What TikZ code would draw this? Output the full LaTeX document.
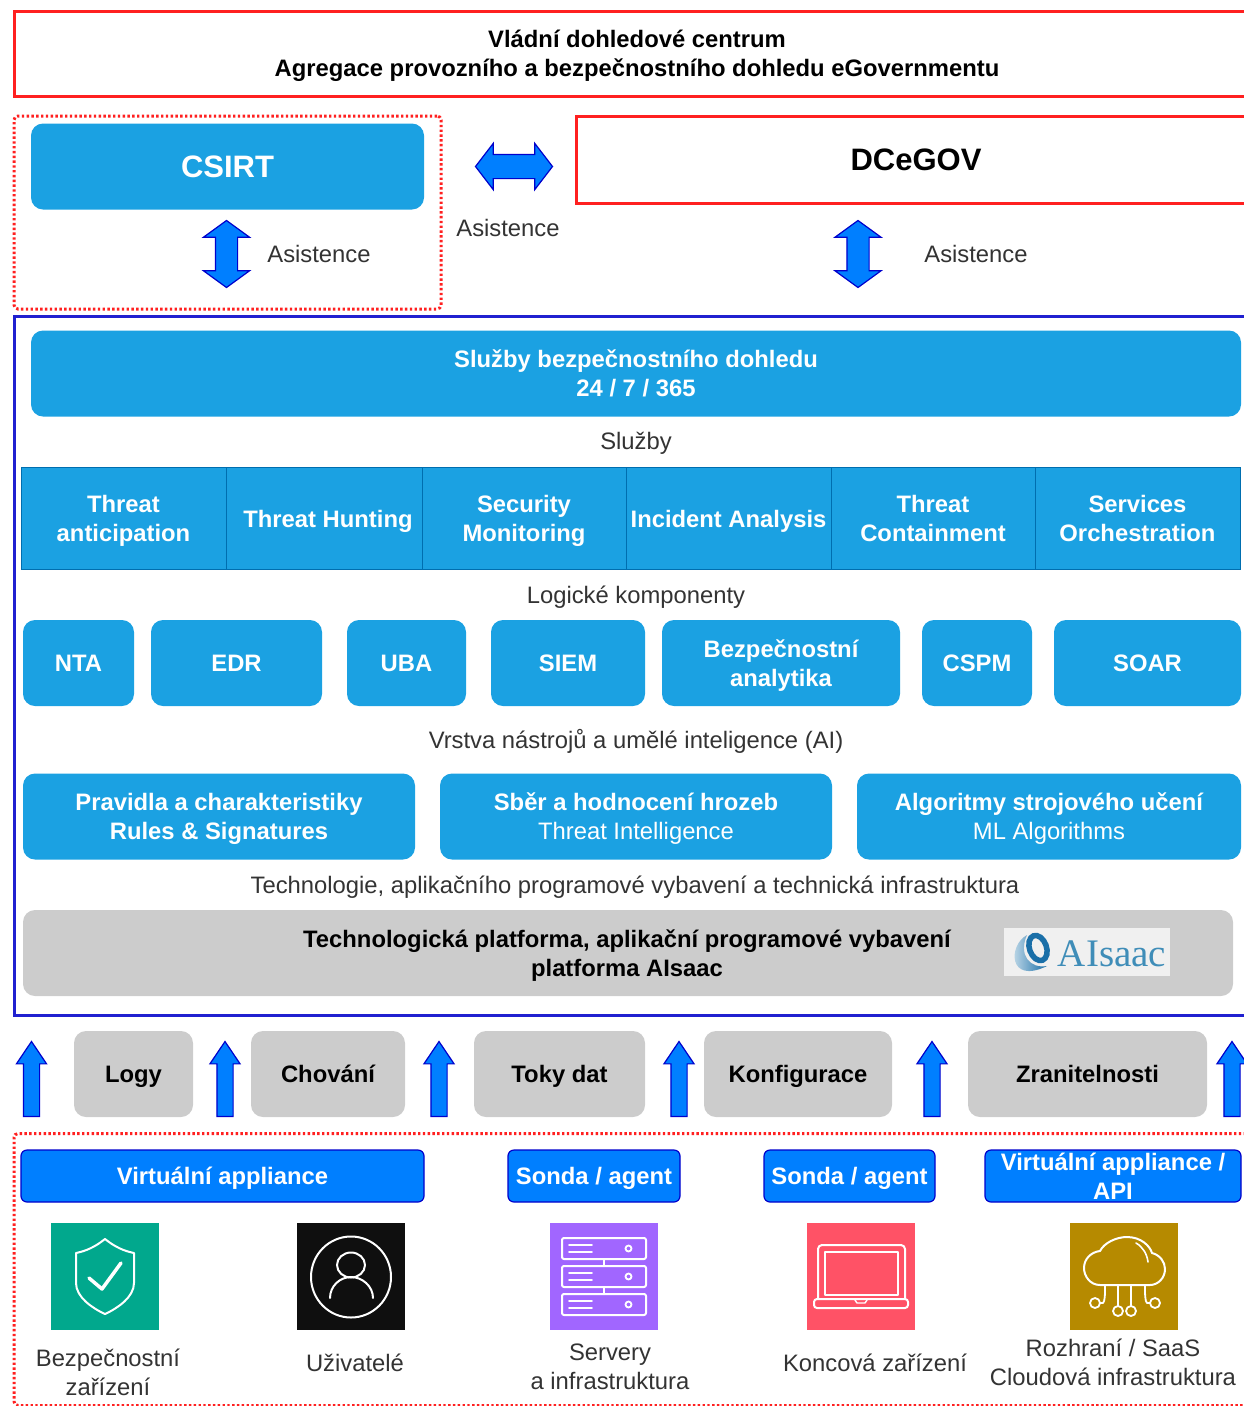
\documentclass[tikz,border=0pt]{standalone}
\usepackage{fontspec}
\setmainfont{Liberation Sans}
\newfontfamily\logofont{Liberation Serif}
\usetikzlibrary{shapes.arrows}
\definecolor{cyanfill}{HTML}{1BA1E2}
\definecolor{cyanline}{HTML}{006EAF}
\definecolor{greyfill}{HTML}{CCCCCC}
\definecolor{azure}{HTML}{007FFF}
\definecolor{azureline}{HTML}{0000CC}
\definecolor{framered}{HTML}{FF2020}
\definecolor{frameblue}{HTML}{2020D0}
\definecolor{labelgrey}{HTML}{333333}
\definecolor{logoblue}{HTML}{3F8DB8}
\definecolor{logodark}{HTML}{1A6FA8}
\definecolor{logolight}{HTML}{D5E6F0}
\definecolor{secteal}{HTML}{01A88D}
\definecolor{srvpurple}{HTML}{A166FF}
\definecolor{lapred}{HTML}{FF5266}
\definecolor{cldgold}{HTML}{B68A00}
\tikzstyle{every node}=[inner sep=0pt,outer sep=0pt,align=center,font=\fontsize{23.8}{29}\selectfont]
\tikzstyle{oneline}=[text height=20pt,text depth=3pt]
\tikzstyle{twoline}=[text height=49pt,text depth=3pt]
\tikzstyle{block}=[
   rectangle,
   rounded corners=12pt,
   fill=cyanfill,
   text=white,
   minimum height=86pt,
   oneline,
   font=\fontsize{23.8}{29}\selectfont\bfseries
]
\tikzstyle{service}=[
   rectangle,
   draw=cyanline,
   line width=1pt,
   fill=cyanfill,
   text=white,
   minimum height=102pt,
   oneline,
   font=\fontsize{23.8}{29}\selectfont\bfseries
]
\tikzstyle{greybox}=[
   rectangle,
   rounded corners=12pt,
   fill=greyfill,
   text=black,
   minimum height=86pt,
   oneline,
   font=\fontsize{23.8}{29}\selectfont\bfseries
]
\tikzstyle{probe}=[
   rectangle,
   rounded corners=6pt,
   draw=azureline,
   line width=1.2pt,
   fill=azure,
   text=white,
   minimum height=52pt,
   oneline,
   font=\fontsize{23.8}{29}\selectfont\bfseries
]
\tikzstyle{redframe}=[rectangle,draw=framered,line width=3pt]
\tikzstyle{blueframe}=[rectangle,draw=frameblue,line width=3pt]
\tikzstyle{dotframe}=[rectangle,draw=framered,line width=3pt,dash pattern=on 2.4pt off 2.4pt,rounded corners=4pt]
\tikzstyle{caption}=[text=labelgrey,oneline]
\tikzstyle{duo}=[
   double arrow,
   draw=azureline,
   line width=1.2pt,
   fill=azure,
   minimum width=45pt,
   inner ysep=11.5pt,
   double arrow head extend=11pt,
   double arrow tip angle=105,
   double arrow head indent=0pt
]
\tikzstyle{duoup}=[
   duo,
   rotate=90,
   minimum height=67pt,
   inner ysep=10.5pt,
   double arrow head extend=12pt,
   double arrow tip angle=108
]
\tikzstyle{upper}=[
   single arrow,
   rotate=90,
   draw=azureline,
   line width=1.2pt,
   fill=azure,
   minimum width=29pt,
   minimum height=75pt,
   inner ysep=7.5pt,
   single arrow head extend=7pt,
   single arrow tip angle=68,
   single arrow head indent=0pt
]
\tikzstyle{icon}=[rectangle,minimum width=108pt,minimum height=107pt]
\tikzstyle{iconline}=[draw=white,line width=2pt,line join=round,line cap=round]

\begin{document}
\begin{tikzpicture}[x=1pt,y=-1pt,node distance=100pt]

  \useasboundingbox (0,0) rectangle (1243,1406);

  \node[redframe,twoline,minimum width=1246pt,minimum height=85pt] (gov) at (637,53.5) {\bfseries Vládní dohledové centrum\\\bfseries Agregace provozního a bezpečnostního dohledu eGovernmentu};

  \node[dotframe,minimum width=427pt,minimum height=193pt] (csirtframe) at (227.5,212.5) {};
  \node[block,text height=22pt,text depth=0pt,minimum width=393pt,font=\fontsize{31}{36}\selectfont\bfseries] (csirt) at (227.5,166.5) {CSIRT};
  \node[duoup] (csirtarrow) at (226.5,254) {};
  \node[caption] (csirtasist) at (319,254) {Asistence};

  \node[duo,minimum height=77pt] (midarrow) at (514,166.5) {};
  \node[caption] (midasist) at (508,228) {Asistence};

  \node[redframe,minimum width=680pt,minimum height=87pt,font=\fontsize{31}{36}\selectfont\bfseries] (dc) at (916,159.5) {DCeGOV};
  \node[duoup] (dcarrow) at (858,254) {};
  \node[caption] (dcasist) at (976,254) {Asistence};

  \node[blueframe,minimum width=1250pt,minimum height=699pt] (soc) at (639,665.5) {};

  \node[block,twoline,minimum width=1210pt] (dohled) at (636,373.5) {Služby bezpečnostního dohledu\\24 / 7 / 365};
  \node[caption] (sluzby) at (636,441) {Služby};

  \node[service,twoline,minimum width=205pt] (s1) at (123.5,518.5) {Threat\\anticipation};
  \node[service,minimum width=196pt] (s2) [right of=s1,xshift=100.5pt] {\hspace*{8pt}Threat Hunting};
  \node[service,twoline,minimum width=204pt] (s3) [right of=s2,xshift=100pt] {Security\\Monitoring};
  \node[service,minimum width=205pt] (s4) [right of=s3,xshift=104.5pt] {Incident Analysis};
  \node[service,twoline,minimum width=204pt] (s5) [right of=s4,xshift=104.5pt] {Threat\\Containment};
  \node[service,twoline,minimum width=205pt] (s6) [right of=s5,xshift=104.5pt] {Services\\Orchestration};

  \node[caption] (logic) at (636,595) {Logické komponenty};

  \node[block,minimum width=111pt] (nta) at (78.5,663) {NTA};
  \node[block,minimum width=171pt] (edr) [right of=nta,xshift=58pt] {EDR};
  \node[block,minimum width=119pt] (uba) [right of=edr,xshift=70pt] {UBA};
  \node[block,minimum width=154pt] (siem) [right of=uba,xshift=61.5pt] {SIEM};
  \node[block,twoline,minimum width=238pt] (bez) [right of=siem,xshift=113pt] {Bezpečnostní\\analytika};
  \node[block,minimum width=110pt] (cspm) [right of=bez,xshift=96pt] {CSPM};
  \node[block,minimum width=187pt] (soar) [right of=cspm,xshift=70.5pt] {SOAR};

  \node[caption] (tools) at (636,740) {Vrstva nástrojů a umělé inteligence (AI)};

  \node[block,twoline,minimum width=392pt] (rules) at (219,816.5) {Pravidla a charakteristiky\\Rules \& Signatures};
  \node[block,twoline,minimum width=392pt] (threat) [right of=rules,xshift=317pt] {Sběr a hodnocení hrozeb\\{\mdseries Threat Intelligence}};
  \node[block,twoline,minimum width=384pt] (ml) [right of=threat,xshift=313pt] {Algoritmy strojového učení\\{\mdseries ML Algorithms}};

  \node[caption] (tech) at (635,885) {Technologie, aplikačního programové vybavení a technická infrastruktura};

  \node[greybox,minimum width=1210pt] (platform) at (628,953) {};
  \node[twoline,font=\fontsize{23.8}{29}\selectfont\bfseries] (platformtext) at (627,953) {Technologická platforma, aplikační programové vybavení\\platforma AIsaac};
  \node[rectangle,fill=black!6,minimum width=166pt,minimum height=48pt] (logo) at (1087,952) {};
  \node[text=logoblue,font=\fontsize{39}{39}\selectfont\logofont] (logotext) at (1112,954) {AIsaac};
  \shade[left color=logolight,right color=logodark] (1027,935) .. controls (1008,945) and (1008,985) .. (1047,966) .. controls (1030,969) and (1018,955) .. cycle;
  \draw[logodark,line width=5.5pt,rotate around={20:(1038,948)}] (1038,948) ellipse (8.5pt and 13pt);

  \node[upper] (up1) at (31.5,1085) {};
  \node[greybox,minimum width=119pt] (logy) at (133.5,1074) {Logy};
  \node[upper] (up2) at (225,1085) {};
  \node[greybox,minimum width=154pt] (chovani) at (328,1074) {Chování};
  \node[upper] (up3) at (439,1085) {};
  \node[greybox,minimum width=171pt] (toky) at (559.5,1074) {Toky dat};
  \node[upper] (up4) at (679,1085) {};
  \node[greybox,minimum width=188pt] (konf) at (798,1074) {Konfigurace};
  \node[upper] (up5) at (932,1085) {};
  \node[greybox,minimum width=239pt] (zran) at (1087.5,1074) {Zranitelnosti};
  \node[upper] (up6) at (1232,1085) {};

  \node[dotframe,minimum width=1260pt,minimum height=272pt] (sources) at (644,1269.5) {};

  \node[probe,minimum width=403pt] (virt) at (222.5,1176) {Virtuální appliance};
  \node[probe,minimum width=172pt] (sonda1) at (594,1176) {Sonda / agent};
  \node[probe,minimum width=171pt] (sonda2) [right of=sonda1,xshift=155.5pt] {Sonda / agent};
  \node[probe,twoline,minimum width=256pt] (virtapi) at (1113,1176) {Virtuální appliance /\\API};

  \node[icon,fill=secteal] (sec) at (105,1276.5) {};
  \draw[iconline] (105,1239) .. controls (95,1247) and (86,1251) .. (76,1253) -- (76,1283) .. controls (76,1297) and (92,1308) .. (105,1314) .. controls (118,1308) and (134,1297) .. (134,1283) -- (134,1253) .. controls (124,1251) and (115,1247) .. (105,1239) -- cycle;
  \draw[iconline,line width=3.5pt] (89,1278) -- (102,1289) -- (121,1263);

  \node[icon,fill=black!94] (usr) at (351,1276.5) {};
  \draw[iconline] (351,1277) ellipse (40pt and 40.5pt);
  \draw[iconline] (351,1265) ellipse (14pt and 12.5pt);
  \draw[iconline] (330,1298) .. controls (330,1286) and (340,1277) .. (351,1277) .. controls (362,1277) and (373,1286) .. (373,1298);

  \node[icon,fill=srvpurple] (srv) at (604,1276.5) {};
  \foreach \y in {1238,1266,1294} {
    \draw[iconline,rounded corners=2pt] (562,\y) rectangle (646,\y+21);
    \draw[iconline,line width=1.8pt] (569,\y+7) -- (592,\y+7);
    \draw[iconline,line width=1.8pt] (569,\y+14) -- (592,\y+14);
    \draw[iconline,line width=1.8pt] (628.5,\y+10.5) circle (3pt);
  }
  \draw[iconline] (604,1259) -- (604,1266);
  \draw[iconline] (604,1287) -- (604,1294);

  \node[icon,fill=lapred] (lap) at (861,1276.5) {};
  \draw[iconline,rounded corners=4pt] (818,1299) -- (818,1245) -- (905,1245) -- (905,1299);
  \draw[iconline,line width=1.8pt] (825,1252) rectangle (898,1295);
  \draw[iconline,rounded corners=3pt] (814,1299) rectangle (908,1308);
  \draw[iconline,line width=1.4pt] (855,1300) -- (857,1303) -- (865,1303) -- (867,1300);

  \node[icon,fill=cldgold] (cld) at (1124,1276.5) {};
  \draw[iconline] (1150,1285) -- (1100,1285) .. controls (1090,1285) and (1084,1276) .. (1084,1268) .. controls (1084,1259) and (1091,1252) .. (1100,1251) .. controls (1104,1243) and (1116,1237) .. (1127,1237) .. controls (1141,1237) and (1150,1246) .. (1152,1253) .. controls (1160,1255) and (1165,1262) .. (1165,1269) .. controls (1165,1278) and (1158,1285) .. (1150,1285);
  \draw[iconline,line width=1.6pt] (1136,1243) .. controls (1143,1247) and (1147,1254) .. (1148,1262);
  \draw[iconline,line width=1.8pt] (1100,1303) -- (1103,1303) .. controls (1105,1301) and (1105,1295) .. (1105,1285);
  \draw[iconline,line width=1.8pt] (1118,1285) -- (1118,1306);
  \draw[iconline,line width=1.8pt] (1131,1285) -- (1131,1306);
  \draw[iconline,line width=1.8pt] (1150,1303) -- (1147,1303) .. controls (1145,1301) and (1145,1295) .. (1145,1285);
  \draw[iconline,line width=1.8pt] (1095,1303) circle (5pt);
  \draw[iconline,line width=1.8pt] (1118,1311) circle (5pt);
  \draw[iconline,line width=1.8pt] (1131,1311) circle (5pt);
  \draw[iconline,line width=1.8pt] (1155,1303) circle (5pt);

  \node[caption,twoline] (seclbl) at (108,1372) {Bezpečnostní\\zařízení};
  \node[caption] (usrlbl) at (355,1363) {Uživatelé};
  \node[caption,twoline] (srvlbl) at (610,1366) {Servery\\a infrastruktura};
  \node[caption] (laplbl) at (875,1363) {Koncová zařízení};
  \node[caption,twoline] (cldlbl) at (1113,1362) {Rozhraní / SaaS\\Cloudová infrastruktura};

\end{tikzpicture}
\end{document}
